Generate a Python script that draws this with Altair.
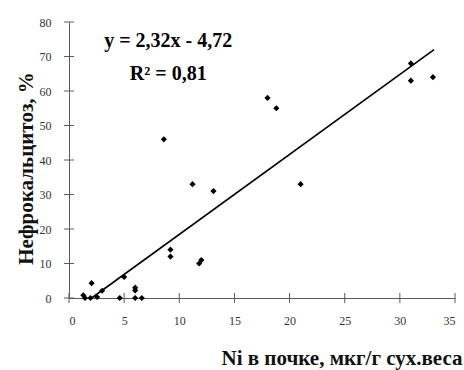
import altair as alt
import pandas as pd

# data
ni_kidney = [1.3, 1.45, 1.95, 2.05, 2.55, 3.0, 4.6, 5.0, 6.0, 6.0, 6.0, 6.6,
             8.6, 9.2, 9.2, 11.2, 11.8, 12.0, 13.1, 18.0, 18.8, 21.0, 31.0, 31.0, 33.0]
nephro = [0.8, 0.0, 0.0, 4.3, 0.3, 2.1, 0.0, 6.1, 3.0, 2.2, 0.0, 0.0,
          46.0, 14.0, 12.0, 33.0, 10.0, 11.0, 31.0, 58.0, 55.0, 33.0, 68.0, 63.0, 64.0]

trend_x = [2.05, 33.1]
trend_y = [0.0, 72.0]

x_ticks = [0, 5, 10, 15, 20, 25, 30, 35]
y_ticks = [0, 10, 20, 30, 40, 50, 60, 70, 80]

eq_lines = ["y = 2,32x - 4,72", "R² = 0,81"]
eq_x = [9.0, 9.0]
eq_y = [72.7, 63.2]

rows = []
rows += [{"k": "pt", "x": a, "y": b, "t": ""} for a, b in zip(ni_kidney, nephro)]
rows += [{"k": "trend", "x": a, "y": b, "t": ""} for a, b in zip(trend_x, trend_y)]
rows += [{"k": "xt", "x": a, "y": 0, "t": ""} for a in x_ticks]
rows += [{"k": "yt", "x": 0, "y": b, "t": ""} for b in y_ticks]
rows += [{"k": "eq", "x": a, "y": b, "t": s} for s, a, b in zip(eq_lines, eq_x, eq_y)]
df = pd.DataFrame(rows)

FONT = "Liberation Serif"
AXC = "#5a5a5a"

xscale = alt.Scale(domain=[0, 35], nice=False, zero=False)
yscale = alt.Scale(domain=[0, 80], nice=False, zero=False)

common = dict(labelOverlap=False, ticks=False, grid=False, domainColor=AXC,
              labelFont=FONT, labelFontSize=12, labelColor="#333333",
              titleFont=FONT, titleFontSize=21, titleFontWeight="bold", titleColor="#111111")
xaxis = alt.Axis(values=x_ticks, title="Ni в почке, мкг/г сух.веса",
                 titleAnchor="end", titleAlign="right", titleX=393, titleY=66,
                 titleBaseline="alphabetic", labelPadding=17, **common)
yaxis = alt.Axis(values=y_ticks, title="Нефрокальцитоз, %",
                 titleX=-37, titleY=146, titleAlign="center", titleBaseline="alphabetic",
                 titleAngle=270, labelPadding=18, **common)

base = alt.Chart(df).encode(
    x=alt.X("x:Q", scale=xscale, axis=xaxis),
    y=alt.Y("y:Q", scale=yscale, axis=yaxis),
)

line = base.transform_filter(alt.datum.k == "trend").mark_line(color="black", strokeWidth=1.6)
xticks = base.transform_filter(alt.datum.k == "xt").mark_rule(
    color=AXC, strokeWidth=1, yOffset=-5, y2Offset=5).encode(y2="y:Q")
yticks = base.transform_filter(alt.datum.k == "yt").mark_rule(
    color=AXC, strokeWidth=1, xOffset=-5, x2Offset=5).encode(x2="x:Q")
points = base.transform_filter(alt.datum.k == "pt").mark_point(
    shape="diamond", filled=True, color="black", size=38, opacity=1)
text = base.transform_filter(alt.datum.k == "eq").mark_text(
    font=FONT, fontSize=20, fontWeight="bold", color="black",
    align="center", baseline="alphabetic").encode(text="t:N")

chart = alt.layer(line, xticks, yticks, points, text).properties(
    width=386, height=276,
    autosize=alt.AutoSizeParams(type="none"),
    padding={"left": 69, "top": 22, "right": 9, "bottom": 72},
).configure_view(stroke=None)

chart.save("out.html", embed_options={"renderer": "svg", "actions": False})
